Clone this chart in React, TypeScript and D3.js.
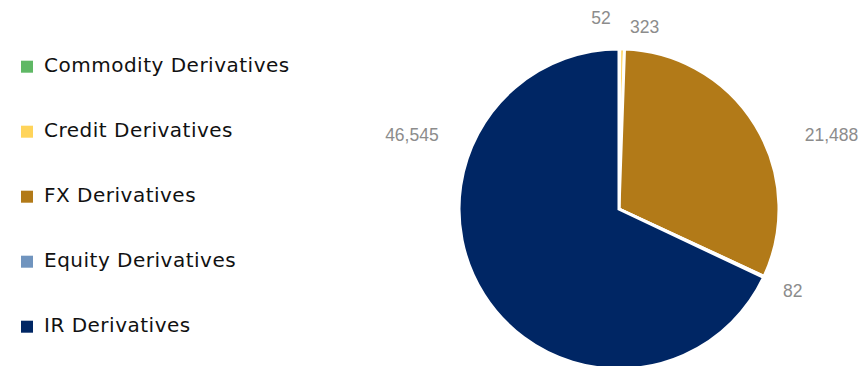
import React from "react";
import * as d3 from "d3";

const categories = ["Commodity Derivatives", "Credit Derivatives", "FX Derivatives", "Equity Derivatives", "IR Derivatives"];
const values = [52, 323, 21488, 82, 46545];
const colors = ["#5fb865", "#ffd45a", "#b27a18", "#7094be", "#002664"];
const valueLabels = ["52", "323", "21,488", "82", "46,545"];

const W = 863;
const H = 366;

export default function App() {
  const cx = 619;
  const cy = 209;
  const r = 160;
  const pie = d3.pie<number>().sort(null).value((d) => d)(values);
  const arc = d3.arc<d3.PieArcDatum<number>>().innerRadius(0).outerRadius(r);
  const toRad = (deg: number) => (deg * Math.PI) / 180;
  // label placement: angle (deg, clockwise from top) and radius per slice
  const labelPlace = [
    { a: -5.4, rr: 192 },
    { a: 8, rr: 184 },
    { a: 70.8, rr: 225 },
    null,
    { a: 289.7, rr: 220 },
  ];
  const legendY = d3.scalePoint<string>().domain(categories).range([66.7, 326.7]);

  return (
    <svg width={W} height={H} style={{ position: "absolute", left: 0, top: 0, display: "block" }}>
      <rect width={W} height={H} fill="#ffffff" />
      <g transform={`translate(${cx},${cy})`}>
        {pie.map((p, i) => (
          <path key={i} d={arc(p) || ""} fill={colors[i]} stroke="#ffffff" strokeWidth={3} strokeLinejoin="miter" />
        ))}
        {pie.map((p, i) => {
          const lp = labelPlace[i];
          const mid = ((p.startAngle + p.endAngle) / 2) * 180 / Math.PI;
          const a = lp ? lp.a : mid;
          const rr = lp ? lp.rr : 192;
          const x = rr * Math.sin(toRad(a));
          const y = -rr * Math.cos(toRad(a));
          return (
            <text key={i} x={x} y={y} textAnchor="middle" dominantBaseline="central"
              fontFamily="'Liberation Sans', Arial, sans-serif" fontSize={17.5} fill="#8c8c8c">
              {valueLabels[i]}
            </text>
          );
        })}
      </g>
      <g>
        {categories.map((c, i) => {
          const y = legendY(c) as number;
          return (
            <g key={c}>
              <rect x={21} y={y - 6} width={12} height={12} fill={colors[i]} />
              <text x={44} y={y + 5.5} fontFamily="'DejaVu Sans', sans-serif" fontSize={20} letterSpacing={0.5} fill="#111111">
                {c}
              </text>
            </g>
          );
        })}
      </g>
    </svg>
  );
}
